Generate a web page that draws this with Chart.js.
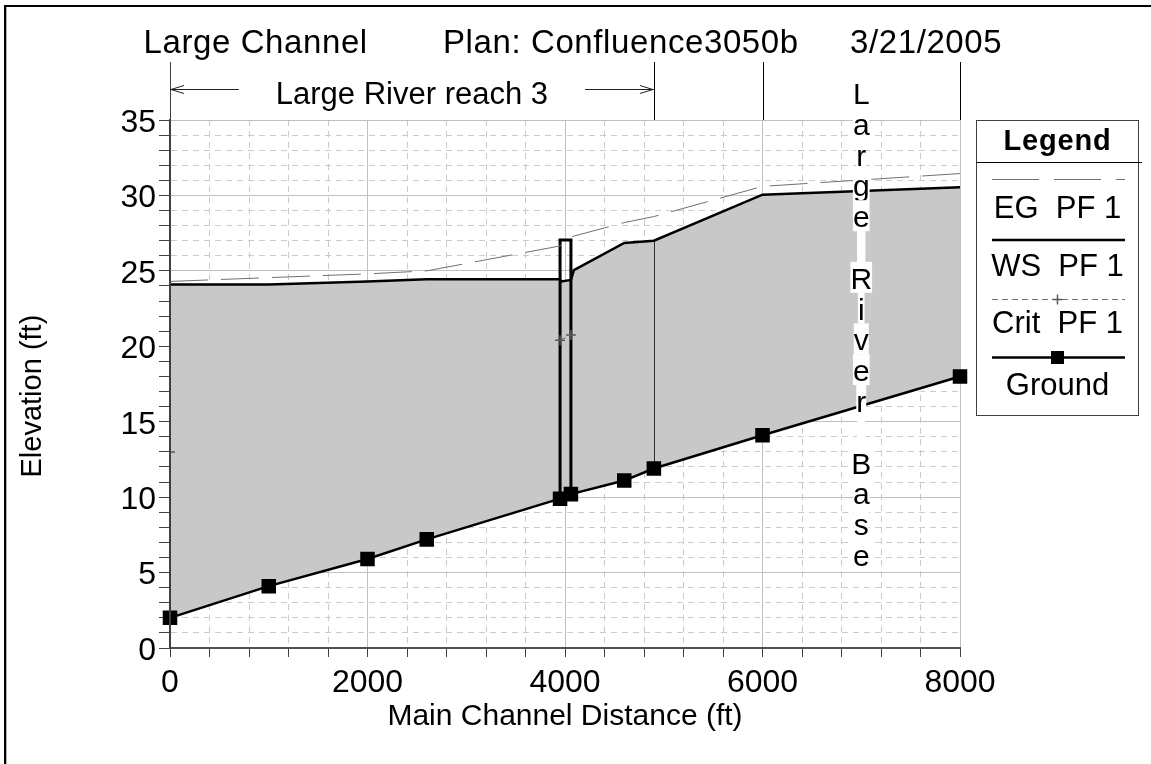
<!DOCTYPE html>
<html>
<head>
<meta charset="utf-8">
<script src="https://cdn.jsdelivr.net/npm/chart.js@4.4.0/dist/chart.umd.min.js"></script>
<style>
  html, body { margin: 0; padding: 0; background: #fff; }
  #wrap { width: 1151px; height: 764px; }
</style>
</head>
<body>
<div id="wrap"><canvas id="profile" width="1151" height="764"></canvas></div>
<script>
// --- values ---
const groundStations = [0, 1000, 2000, 2600, 3950, 4060, 4600, 4900, 6000, 8000];
const groundElev = [2.0, 4.1, 5.9, 7.2, 9.9, 10.2, 11.1, 11.9, 14.1, 18.0];

const wsStations = [0, 1000, 2000, 2600, 3950, 3965, 4060, 4090, 4600, 4900, 6000, 8000];
const wsElev = [24.1, 24.1, 24.3, 24.45, 24.45, 24.3, 24.4, 25.05, 26.85, 27.0, 30.05, 30.55];

const egStations = [0, 1000, 2000, 2600, 3950, 4060, 4600, 4900, 6000, 8000];
const egElev = [24.3, 24.55, 24.8, 25.0, 26.65, 27.25, 28.2, 28.6, 30.6, 31.45];

const critStations = [0, 3950, 4060];
const critElev = [13.0, 20.4, 20.75];

const bridgeStations = [3950, 4060];
const bridgeDeck = 27.05;

const junctionStations = [4900];

const reachNames = ['Large River reach 3', 'Large River Base'];
const reachStart = [0, 6000];
const reachEnd = [4900, 8000];
const reachBounds = [0, 4900, 6000, 8000];

const xTickLabels = [0, 2000, 4000, 6000, 8000];
const yTickLabels = [0, 5, 10, 15, 20, 25, 30, 35];

const titleParts = ['Large Channel', 'Plan: Confluence3050b', '3/21/2005'];
const legendLabels = ['EG  PF 1', 'WS  PF 1', 'Crit  PF 1', 'Ground'];

const FONT = "'Liberation Sans', Arial, sans-serif";
const FILL = '#c8c8c8';

const pts = (xs, ys) => xs.map((x, i) => ({ x, y: ys[i] }));
const groundAt = s => groundElev[groundStations.indexOf(s)];
const wsAt = s => wsElev[wsStations.indexOf(s)];

const bridgeOutline = [
    { x: bridgeStations[0], y: groundAt(bridgeStations[0]) },
    { x: bridgeStations[0], y: bridgeDeck },
    { x: bridgeStations[1], y: bridgeDeck },
    { x: bridgeStations[1], y: groundAt(bridgeStations[1]) }
];

// major grid lines solid, minor ones dashed
const gridDash = labels => c => (c.tick && !labels.includes(c.tick.value)) ? [6, 5] : [];
const gridColor = labels => c => (c.tick && labels.includes(c.tick.value)) ? '#c0c0c0' : '#cbcbcb';

function chevron(ctx, tipX, y, dir) {
    // open arrow head, dir -1 points left, +1 points right
    ctx.beginPath();
    ctx.moveTo(tipX - dir * 13, y - 4);
    ctx.lineTo(tipX, y);
    ctx.lineTo(tipX - dir * 13, y + 4);
    ctx.stroke();
}

const annotate = {
    id: 'annotate',
    beforeDatasetsDraw(chart) {
        // junction marker between WS and ground
        const { ctx, scales: { x, y } } = chart;
        ctx.save();
        ctx.strokeStyle = '#303030';
        ctx.lineWidth = 1;
        junctionStations.forEach(s => {
            const px = Math.round(x.getPixelForValue(s)) + 0.5;
            ctx.beginPath();
            ctx.moveTo(px, y.getPixelForValue(groundAt(s)));
            ctx.lineTo(px, y.getPixelForValue(wsAt(s)));
            ctx.stroke();
        });
        ctx.restore();
    },
    afterDatasetsDraw(chart) {
        // vertical reach name, one letter per line on white boxes
        const { ctx, chartArea, scales: { x } } = chart;
        const cx = x.getPixelForValue((reachStart[1] + reachEnd[1]) / 2);
        ctx.save();
        ctx.font = '30px ' + FONT;
        ctx.textAlign = 'center';
        ctx.textBaseline = 'alphabetic';
        [...reachNames[1]].forEach((ch, i) => {
            const base = chartArea.top - 16 + i * 30.8;
            const w = ctx.measureText(ch).width;
            ctx.fillStyle = '#fff';
            ctx.fillRect(cx - w / 2, base - 27, w, 31);
            ctx.fillStyle = '#000';
            ctx.fillText(ch, cx, base);
        });
        ctx.restore();
    },
    afterDraw(chart) {
        const { ctx, chartArea, scales: { x } } = chart;
        const ds = chart.data.datasets;
        ctx.save();

        // frame (top and left edges only)
        ctx.fillStyle = '#000';
        ctx.fillRect(4, 5, 1151 - 4, 2);
        ctx.fillRect(4, 5, 2.3, 764 - 5);

        // title
        ctx.font = '33px ' + FONT;
        ctx.textAlign = 'left';
        ctx.textBaseline = 'alphabetic';
        ctx.letterSpacing = '0.6px';
        [143.5, 443, 850].forEach((tx, i) => ctx.fillText(titleParts[i], tx, 53));
        ctx.letterSpacing = '0px';

        // reach boundary ticks above the plot
        ctx.lineWidth = 1;
        reachBounds.forEach((b, i) => {
            const px = Math.round(x.getPixelForValue(b)) + 0.5;
            ctx.strokeStyle = i === 0 ? '#404040' : '#000';
            ctx.beginPath();
            ctx.moveTo(px, 62);
            ctx.lineTo(px, chartArea.top);
            ctx.stroke();
        });

        // horizontal reach label with arrows
        const r0 = x.getPixelForValue(reachStart[0]);
        const r1 = x.getPixelForValue(reachEnd[0]);
        const mid = (r0 + r1) / 2;
        ctx.font = '31px ' + FONT;
        ctx.textAlign = 'center';
        ctx.fillStyle = '#000';
        const tw = ctx.measureText(reachNames[0]).width;
        ctx.fillText(reachNames[0], mid, 104);
        ctx.strokeStyle = '#202020';
        const ay = 89.5;
        ctx.beginPath();
        ctx.moveTo(r0, ay); ctx.lineTo(mid - tw / 2 - 37, ay);
        ctx.moveTo(mid + tw / 2 + 37, ay); ctx.lineTo(r1, ay);
        ctx.stroke();
        chevron(ctx, r0 + 1, ay, -1);
        chevron(ctx, r1 - 1, ay, 1);

        // legend box
        const L = { left: 976.5, top: 120.5, right: 1138.5, bottom: 415.5 };
        const lc = (L.left + L.right) / 2;
        ctx.strokeStyle = '#404040';
        ctx.lineWidth = 1;
        ctx.strokeRect(L.left, L.top, L.right - L.left, L.bottom - L.top);
        ctx.strokeStyle = '#000';
        ctx.beginPath();
        ctx.moveTo(L.left, 162.5); ctx.lineTo(1142, 162.5);
        ctx.stroke();
        ctx.font = 'bold 29px ' + FONT;
        ctx.letterSpacing = '0.8px';
        ctx.textBaseline = 'middle';
        ctx.fillText('Legend', lc, 142);
        ctx.letterSpacing = '0px';

        const lineY = [179.5, 240, 299.5, 357.5];
        const textY = [209, 267, 324, 386];
        const x0 = 992, x1 = 1125;
        ctx.font = '31px ' + FONT;
        legendLabels.forEach((lab, i) => {
            const d = ds[i];
            ctx.save();
            ctx.strokeStyle = d.borderColor;
            ctx.lineWidth = d.borderWidth;
            ctx.setLineDash(i === 0 ? [47, 15] : (d.borderDash || []));
            ctx.beginPath();
            ctx.moveTo(x0, lineY[i]); ctx.lineTo(x1, lineY[i]);
            ctx.stroke();
            ctx.restore();
            if (i === 2) {
                ctx.save();
                ctx.strokeStyle = d.pointBorderColor;
                ctx.lineWidth = 1.5;
                ctx.beginPath();
                ctx.moveTo(lc - 5, lineY[i]); ctx.lineTo(lc + 5, lineY[i]);
                ctx.moveTo(lc, lineY[i] - 5); ctx.lineTo(lc, lineY[i] + 5);
                ctx.stroke();
                ctx.restore();
            }
            if (i === 3) {
                ctx.fillStyle = '#000';
                ctx.fillRect(lc - 6.5, lineY[i] - 6.5, 13, 13);
            }
            ctx.fillStyle = '#000';
            ctx.fillText(lab, lc, textY[i]);
        });

        ctx.restore();
    }
};

Chart.defaults.font.family = FONT;
Chart.defaults.color = '#000';

new Chart(document.getElementById('profile'), {
    type: 'line',
    data: {
        datasets: [
            {
                label: legendLabels[0], data: pts(egStations, egElev),
                borderColor: '#707070', borderWidth: 1, borderDash: [38, 13],
                pointRadius: 0, fill: false, tension: 0
            },
            {
                label: legendLabels[1], data: pts(wsStations, wsElev),
                borderColor: '#000', borderWidth: 2.5, pointRadius: 0, tension: 0,
                fill: { target: 3, above: FILL, below: FILL }
            },
            {
                label: legendLabels[2], data: pts(critStations, critElev),
                borderColor: '#707070', borderWidth: 1, borderDash: [6, 4],
                pointStyle: 'cross', pointRadius: 5, pointBorderColor: '#5a5a5a', pointBorderWidth: 1.5,
                fill: false, tension: 0,
                segment: { borderColor: c => (c.p1.parsed.x - c.p0.parsed.x > 500 ? 'rgba(0,0,0,0)' : '#707070') }
            },
            {
                label: legendLabels[3], data: pts(groundStations, groundElev),
                borderColor: '#000', borderWidth: 2.5, tension: 0,
                pointStyle: 'rect', pointRadius: 8.5, pointBackgroundColor: '#000', pointBorderColor: '#000',
                fill: false, clip: false
            },
            {
                label: 'Bridge', data: bridgeOutline,
                borderColor: '#000', borderWidth: 3, pointRadius: 0, fill: false, tension: 0
            }
        ]
    },
    options: {
        responsive: false,
        animation: false,
        events: [],
        layout: { padding: { left: 0, right: 191, top: 120, bottom: 0 } },
        plugins: {
            legend: { display: false },
            tooltip: { enabled: false },
            filler: { drawTime: 'beforeDatasetsDraw' }
        },
        scales: {
            x: {
                type: 'linear', min: 0, max: 8000,
                afterFit: s => { s.height = 116; },
                ticks: {
                    stepSize: 400, autoSkip: false, maxRotation: 0, padding: 7,
                    font: { size: 32 },
                    callback: v => (xTickLabels.includes(v) ? String(v) : '')
                },
                grid: { color: gridColor(xTickLabels), lineWidth: 1, tickLength: 9, tickColor: '#404040', tickWidth: 1 },
                border: { color: '#505050', width: 2, dash: gridDash(xTickLabels) },
                title: {
                    display: true, text: 'Main Channel Distance (ft)',
                    font: { size: 30 }, padding: { top: 0, bottom: 29 }
                }
            },
            y: {
                type: 'linear', min: 0, max: 35,
                afterFit: s => { s.width = 170; },
                ticks: {
                    stepSize: 1, autoSkip: false, padding: 3, labelOffset: 3,
                    font: { size: 32 },
                    callback: v => (yTickLabels.includes(v) ? String(v) : '')
                },
                grid: { color: gridColor(yTickLabels), lineWidth: 1, tickLength: 11, tickColor: '#404040', tickWidth: 1 },
                border: { color: '#404040', width: 2, z: 1, dash: gridDash(yTickLabels) },
                title: {
                    display: true, text: 'Elevation (ft)\u00a0\u00a0\u00a0',
                    font: { size: 29 }, padding: { top: 16, bottom: 0 }
                }
            }
        }
    },
    plugins: [annotate]
});
</script>
</body>
</html>
